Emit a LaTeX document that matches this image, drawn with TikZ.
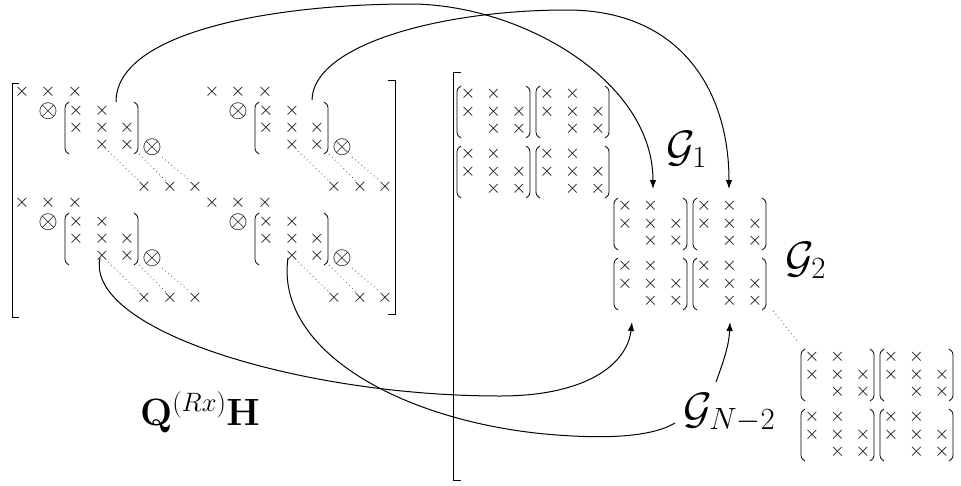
\documentclass[tikz,border=0pt]{standalone}
\usepackage{fix-cm}
\usetikzlibrary{arrows.meta}
\tikzset{
  xx/.style={inner sep=0pt, font=\fontsize{19}{19}\selectfont},
  ot/.style={inner sep=0pt, font=\fontsize{25}{25}\selectfont},
  lbl/.style={inner sep=0pt, font=\fontsize{44}{44}\selectfont},
  qlbl/.style={inner sep=0pt, font=\fontsize{38}{38}\selectfont},
  paren/.style={line width=0.8pt},
  brk/.style={line width=1pt},
  dotl/.style={line width=0.9pt, black!55, dash pattern=on 0.9pt off 3.2pt},
  conn/.style={line width=1pt},
  tip/.style={-{Latex[length=9pt,width=6.5pt]}}
}
% left paren: x, ytop, ybottom
\newcommand\myLP[3]{\draw[paren] (#1+4,#2) .. controls (#1,#2+3) .. (#1,#2+9) -- (#1,#3-9) .. controls (#1,#3-3) .. (#1+4,#3);}
\newcommand\myRP[3]{\draw[paren] (#1-4,#2) .. controls (#1,#2+3) .. (#1,#2+9) -- (#1,#3-9) .. controls (#1,#3-3) .. (#1-4,#3);}
% small 3x3 band matrix with its parentheses, origin = first entry
\newcommand\bandmat[2]{%
  \begin{scope}[shift={(#1,#2)}]
    \foreach \p in {(0,0),(25.5,0),(0,17.5),(25.5,17.5),(51,17.5),(25.5,35),(51,35)}
      \node[xx] at \p {$\times$};
    \myLP{-11}{-8}{44}
    \myRP{62}{-8}{44}
  \end{scope}}
% pair block: two rows of two band matrices
\newcommand\pairblock[2]{%
  \begin{scope}[shift={(#1,#2)}]
    \bandmat{0}{0}\bandmat{79}{0}\bandmat{0}{60}\bandmat{79}{60}
  \end{scope}}
% block of the left matrix
\newcommand\leftblock[2]{%
  \begin{scope}[shift={(#1,#2)}]
    \foreach \p in {(0,0),(26,0),(53,0)} \node[xx] at \p {$\times$};
    \node[ot] at (26,19) {$\otimes$};
    \foreach \p in {(54,18.5),(80,18.5),(54,35.5),(80,35.5),(105,35.5),(80,52.5),(105,52.5)}
      \node[xx] at \p {$\times$};
    \myLP{43}{10}{62}
    \myRP{116}{10}{62}
    \node[ot] at (130,55) {$\otimes$};
    \draw[dotl] (86,59) -- (117,89);
    \draw[dotl] (117,62) -- (144,89);
    \draw[dotl] (140,65) -- (168,89);
    \foreach \p in {(122,95),(148,95),(173,95)} \node[xx] at \p {$\times$};
  \end{scope}}
\begin{document}
\begin{tikzpicture}[x=1pt,y=-1pt]
\useasboundingbox (0,0) rectangle (961,485);
% left matrix
\draw[brk] (19,83) -- (12,83) -- (12,317) -- (19,317);
\draw[brk] (388,80) -- (395,80) -- (395,314) -- (388,314);
\leftblock{22}{92}
\leftblock{212}{92}
\leftblock{22}{203}
\leftblock{212}{203}
% middle matrix
\draw[brk] (461,72) -- (453,72) -- (453,480) -- (461,480);
\pairblock{468}{94}
\pairblock{625}{206}
\pairblock{812}{357}
\draw[dotl] (773,311) -- (799,343);
% labels
\node[lbl, anchor=base west] (g1) at (666,161) {$\mathcal{G}_1$};
\node[lbl, anchor=base west] (g2) at (785,272) {$\mathcal{G}_2$};
\node[lbl, anchor=base west] (gn) at (683,423) {$\mathcal{G}_{N-2}$};
\node[qlbl, anchor=base west] (q) at (140,425) {$\mathbf{Q}^{(Rx)}\mathbf{H}$};
% connectors
\coordinate (s1) at (116,102);
\coordinate (e1) at (653,189);
\coordinate (s2) at (312,100);
\coordinate (e2) at (729,189);
\coordinate (s3) at (100,258);
\coordinate (e3) at (632,322);
\coordinate (s4) at (288,258);
\coordinate (e4) at (675,423);
\coordinate (s5) at (716,382);
\coordinate (e5) at (730,322);
\draw[conn,tip] (s1) .. controls (116,30) and (280,4) .. (410,4) .. controls (520,4) and (653,80) .. (e1);
\draw[conn,tip] (s2) .. controls (313,45) and (440,10) .. (567,10) .. controls (680,10) and (729,90) .. (e2);
\draw[conn,tip] (s3) .. controls (85,330) and (300,396) .. (500,396) .. controls (585,396) and (627,365) .. (e3);
\draw[conn] (s4) .. controls (275,350) and (400,420) .. (545,434) .. controls (600,439) and (650,438) .. (e4);
\draw[conn,tip] (s5) .. controls (724,360) and (729,345) .. (e5);
\end{tikzpicture}
\end{document}
